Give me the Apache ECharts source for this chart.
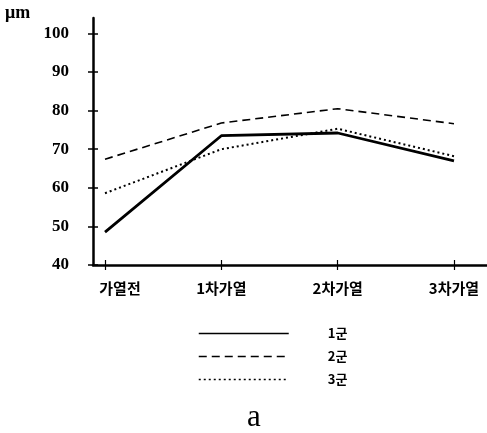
<!DOCTYPE html>
<html>
<head>
<meta charset="utf-8">
<script src="https://cdn.jsdelivr.net/npm/echarts@6/dist/echarts.min.js"></script>
<style>
html,body{margin:0;padding:0;background:#fff;}
#chart{width:487px;height:433px;}
</style>
</head>
<body>
<div id="chart"></div>
<script>
var categories = ['가열전', '1차가열', '2차가열', '3차가열'];
var group1 = [48.5, 73.5, 74.2, 67.0];
var group2 = [67.4, 76.8, 80.5, 76.6];
var group3 = [58.6, 70.0, 75.3, 68.2];
var seriesNames = ['1군', '2군', '3군'];
var yTicks = [40, 50, 60, 70, 80, 90, 100];
var unitLabel = 'μm';
var panelLabel = 'a';

var chart = echarts.init(document.getElementById('chart'), null, {renderer: 'canvas'});
var black = '#000';
var gridTop = 18, gridBottom = 168;
var yMin = 40, yMax = 104;
var xFont = {fontFamily: 'Noto Sans CJK KR', fontWeight: 'bold', fontSize: 15, color: black};

var option = {
  backgroundColor: '#fff',
  animation: false,
  title: {
    text: panelLabel,
    left: 242,
    top: 397,
    textStyle: {fontFamily: 'Liberation Serif', fontSize: 31, fontWeight: 'normal', color: black}
  },
  graphic: [{
    type: 'text',
    left: 5,
    top: 4,
    style: {text: unitLabel, font: 'bold 18px "Liberation Serif"', fill: black}
  }],
  legend: {
    orient: 'vertical',
    left: 193,
    top: 322,
    itemWidth: 90,
    itemHeight: 14,
    itemGap: 10,
    data: seriesNames,
    lineStyle: {width: 1.5},
    itemStyle: {opacity: 0},
    textStyle: {fontFamily: 'Noto Sans CJK KR', fontWeight: 'bold', fontSize: 13, color: black, padding: [0, 0, 0, 34]}
  },
  grid: [
    {left: 93, right: 0, top: gridTop, bottom: gridBottom},
    {left: 105, right: 33, top: gridTop, bottom: gridBottom}
  ],
  xAxis: [
    {gridIndex: 0, type: 'value', min: 0, max: 1, position: 'bottom',
     axisLine: {show: true, lineStyle: {color: black, width: 2.5}},
     axisTick: {show: false}, axisLabel: {show: false}, splitLine: {show: false}},
    {gridIndex: 1, type: 'category', data: categories, boundaryGap: false, position: 'bottom',
     axisLine: {show: false},
     axisTick: {show: true, inside: false, length: 5, lineStyle: {color: black, width: 1.2}},
     axisLabel: Object.assign({show: true, margin: 16,
       formatter: function (v, i) { return i === 0 ? '{f|' + v + '}' : v; },
       rich: {f: Object.assign({padding: [0, 0, 0, 30]}, xFont)}}, xFont),
     splitLine: {show: false}},
    {gridIndex: 1, type: 'category', data: categories, boundaryGap: false, position: 'bottom',
     axisLine: {show: false},
     axisTick: {show: true, inside: true, length: 5, lineStyle: {color: black, width: 1.2}},
     axisLabel: {show: false}, splitLine: {show: false}}
  ],
  yAxis: [
    {gridIndex: 0, type: 'value', min: 0, max: 1, position: 'left',
     axisLine: {show: true, lineStyle: {color: black, width: 2.5}},
     axisTick: {show: false}, axisLabel: {show: false}, splitLine: {show: false}},
    {gridIndex: 1, type: 'value', min: yMin, max: yMax, position: 'left', offset: 12,
     axisLine: {show: false},
     axisTick: {show: true, inside: false, length: 5, customValues: yTicks, lineStyle: {color: black, width: 1.5}},
     axisLabel: {show: true, customValues: yTicks, margin: 24, fontFamily: 'Liberation Serif', fontWeight: 'bold', fontSize: 17, color: black},
     splitLine: {show: false}},
    {gridIndex: 1, type: 'value', min: yMin, max: yMax, position: 'left', offset: 12,
     axisLine: {show: false},
     axisTick: {show: true, inside: true, length: 5, customValues: yTicks, lineStyle: {color: black, width: 1.5}},
     axisLabel: {show: false}, splitLine: {show: false}}
  ],
  series: [
    {name: seriesNames[0], type: 'line', xAxisIndex: 1, yAxisIndex: 1, data: group1,
     symbol: 'none', lineStyle: {color: black, width: 2.8, type: 'solid'}, itemStyle: {color: black}},
    {name: seriesNames[1], type: 'line', xAxisIndex: 1, yAxisIndex: 1, data: group2,
     symbol: 'none', lineStyle: {color: black, width: 1.6, type: [8, 5]}, itemStyle: {color: black}},
    {name: seriesNames[2], type: 'line', xAxisIndex: 1, yAxisIndex: 1, data: group3,
     symbol: 'none', lineStyle: {color: black, width: 2, type: [2, 3]}, itemStyle: {color: black}}
  ]
};
chart.setOption(option);
</script>
</body>
</html>
